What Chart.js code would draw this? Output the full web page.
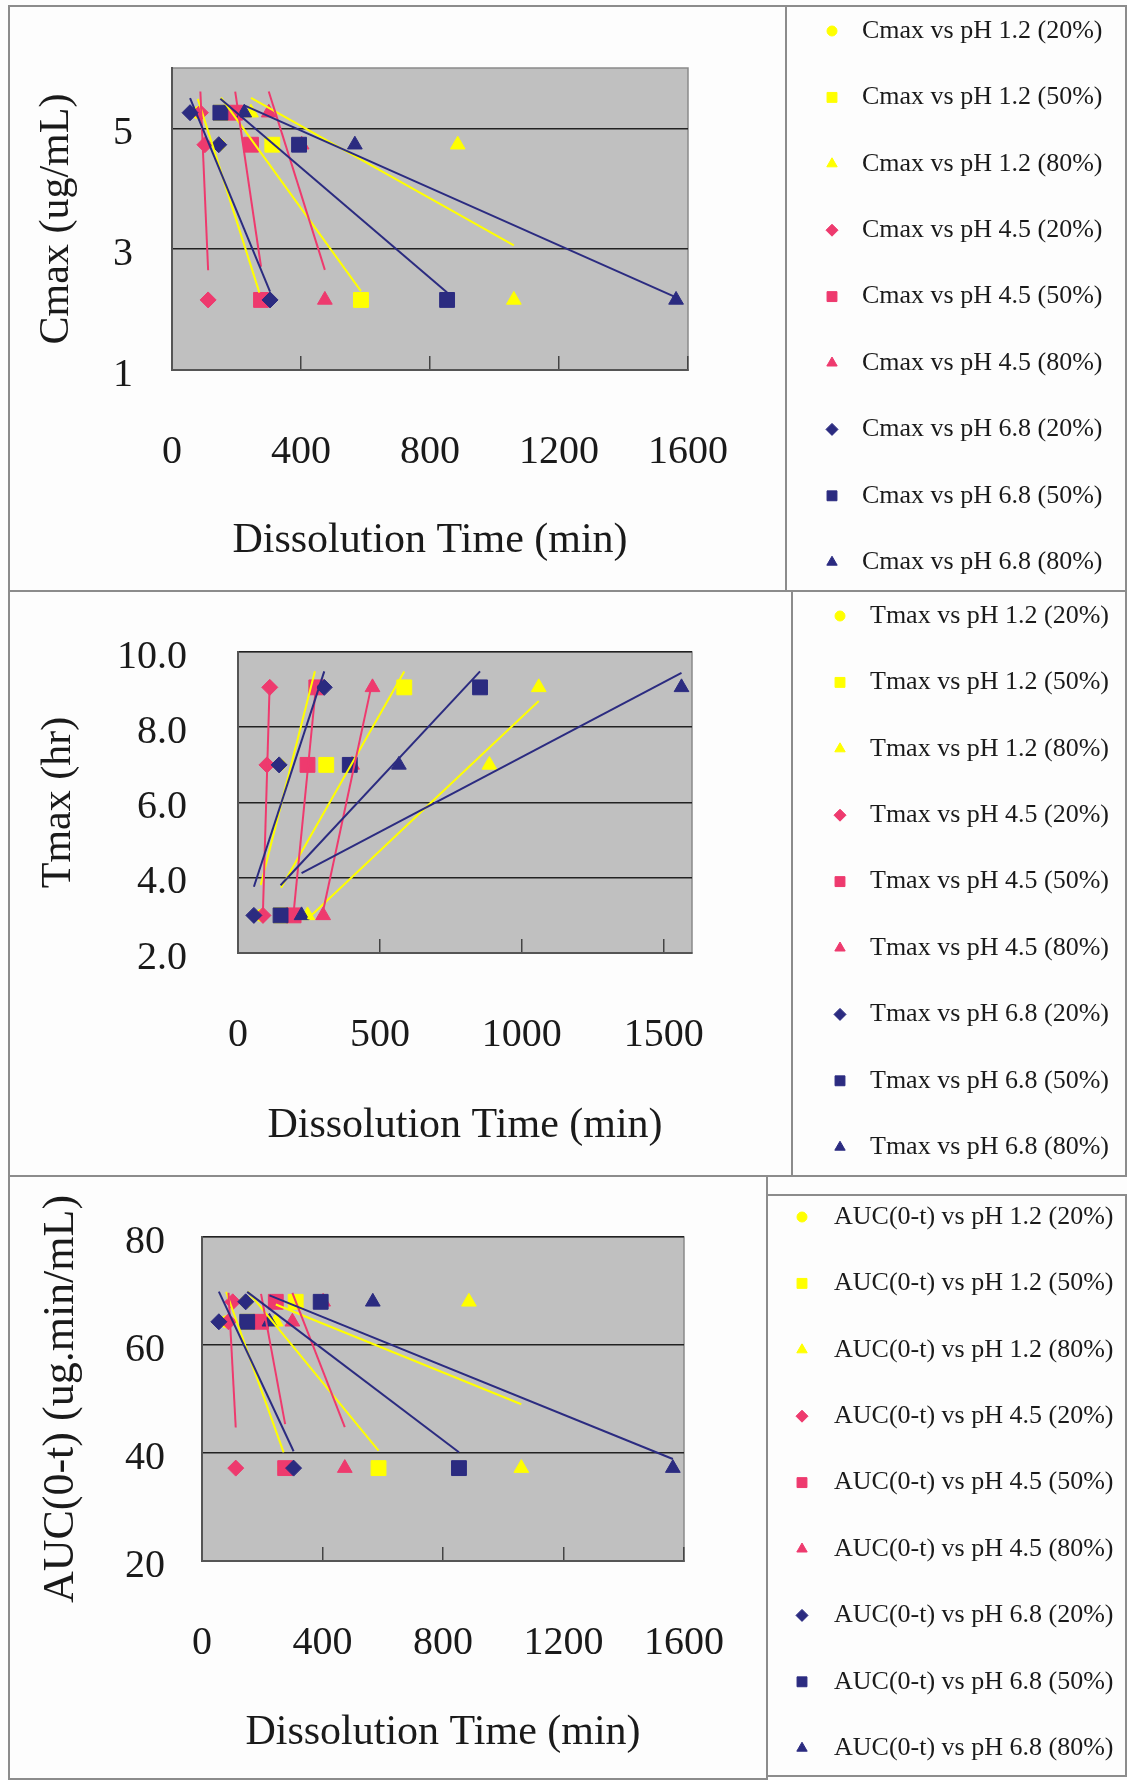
<!DOCTYPE html>
<html>
<head>
<meta charset="utf-8">
<title>Dissolution time vs Cmax, Tmax, AUC</title>
<script src="https://cdn.jsdelivr.net/npm/chart.js@4.4.1/dist/chart.umd.min.js"></script>
<style>
  html, body { margin: 0; padding: 0; background: #fdfdfd; }
  #page { position: relative; width: 1127px; height: 1780px; overflow: hidden; background: #fdfdfd; }
  .frame { position: absolute; box-sizing: border-box; border: 2px solid #8c8c8c; }
  canvas { position: absolute; left: 0; }
</style>
</head>
<body>
<div id="page">
  <div class="frame" style="left:8px; top:5px; width:779px; height:587px;"></div>
  <div class="frame" style="left:785px; top:5px; width:342px; height:587px;"></div>
  <div class="frame" style="left:8px; top:590px; width:785px; height:587px;"></div>
  <div class="frame" style="left:791px; top:590px; width:336px; height:587px;"></div>
  <div class="frame" style="left:8px; top:1175px; width:760px; height:605px;"></div>
  <div class="frame" style="left:766px; top:1194px; width:361px; height:583px;"></div>
  <canvas id="cmaxChart" width="1127" height="584" style="top:6px;"></canvas>
  <canvas id="tmaxChart" width="1127" height="585" style="top:590px;"></canvas>
  <canvas id="aucChart" width="1127" height="605" style="top:1175px;"></canvas>
</div>
<script>
const fontFamily = "'Liberation Serif', 'Times New Roman', serif";
Chart.defaults.font.family = fontFamily;
Chart.defaults.color = "#1a1a1a";

const seriesNames = [
  "pH 1.2 (20%)", "pH 1.2 (50%)", "pH 1.2 (80%)",
  "pH 4.5 (20%)", "pH 4.5 (50%)", "pH 4.5 (80%)",
  "pH 6.8 (20%)", "pH 6.8 (50%)", "pH 6.8 (80%)",
];

// time (min) to reach 20/50/80% dissolved, one value per formulation
const ph12at20 = [80, 146, 271];
const ph12at50 = [152, 311, 586];
const ph12at80 = [245, 886, 1060];
const ph45at20 = [88, 102, 112];
const ph45at50 = [196, 245, 276];
const ph45at80 = [300, 402, 474];
const ph68at20 = [56, 145, 304];
const ph68at50 = [150, 394, 853];
const ph68at80 = [224, 567, 1563];
const dissolutionTimes = [
  ph12at20, ph12at50, ph12at80,
  ph45at20, ph45at50, ph45at80,
  ph68at20, ph68at50, ph68at80,
];

// PK parameter of the same three formulations
const cmaxValues = [5.26, 4.73, 2.16];
const tmaxValues = [3.0, 7.0, 9.06];
const aucValues = [64.3, 68.0, 37.2];

const cmaxTicks = [1, 3, 5];
const tmaxTicks = [2, 4, 6, 8, 10];
const aucTicks = [20, 40, 60, 80];
const timeTicks400 = [0, 400, 800, 1200, 1600];
const timeTicks500 = [0, 500, 1000, 1500];

const yellow = "#FFFF00", pink = "#EE3A6E", navy = "#2B2B80";
const seriesColors = [yellow, yellow, yellow, pink, pink, pink, navy, navy, navy];
const seriesShapes = [
  "circle", "rect", "triangle",
  "rectRot", "rect", "triangle",
  "rectRot", "rect", "triangle",
];
const markerRadius = { circle: 6, rect: 10.5, triangle: 8.5, rectRot: 8 };
const legendRadius = { circle: 5, rect: 7, triangle: 6, rectRot: 6 };

// Excel style linear trendline, from smallest to largest x
const trendLine = (xs, ys) => {
  const n = xs.length;
  const mx = xs.reduce((a, b) => a + b, 0) / n;
  const my = ys.reduce((a, b) => a + b, 0) / n;
  let sxy = 0, sxx = 0;
  xs.forEach((x, i) => {
    sxy += (x - mx) * (ys[i] - my);
    sxx += (x - mx) * (x - mx);
  });
  const slope = sxy / sxx;
  const x0 = Math.min(...xs), x1 = Math.max(...xs);
  return [
    { x: x0, y: my + slope * (x0 - mx) },
    { x: x1, y: my + slope * (x1 - mx) },
  ];
};

const plotBackground = {
  id: "plotBackground",
  beforeDraw(chart) {
    const { ctx, chartArea: a } = chart;
    ctx.save();
    ctx.fillStyle = "#c0c0c0";
    ctx.fillRect(a.left, a.top, a.width, a.height);
    ctx.strokeStyle = "#8a8a8a";
    ctx.lineWidth = 1.5;
    ctx.strokeRect(a.left, a.top, a.width, a.height);
    ctx.restore();
  },
};

const drawMarker = (ctx, style, r, x, y) => {
  if (Chart.helpers && Chart.helpers.drawPoint) {
    Chart.helpers.drawPoint(ctx, { pointStyle: style, radius: r, rotation: 0, borderWidth: 1 }, x, y);
    return;
  }
  ctx.beginPath();
  if (style === "circle") ctx.arc(x, y, r, 0, Math.PI * 2);
  else if (style === "rect") ctx.rect(x - r * 0.707, y - r * 0.707, r * 1.414, r * 1.414);
  else if (style === "rectRot") {
    ctx.moveTo(x - r, y); ctx.lineTo(x, y - r); ctx.lineTo(x + r, y); ctx.lineTo(x, y + r);
  } else {
    ctx.moveTo(x, y - r); ctx.lineTo(x + r * 0.866, y + r / 2); ctx.lineTo(x - r * 0.866, y + r / 2);
  }
  ctx.closePath();
  ctx.fill();
};

const sideLegend = {
  id: "sideLegend",
  afterDraw(chart, args, opts) {
    const { ctx } = chart;
    ctx.save();
    ctx.font = `${opts.fontSize}px ${fontFamily}`;
    ctx.textBaseline = "middle";
    ctx.textAlign = "left";
    let y = opts.firstY;
    chart.data.datasets
      .filter((d) => !d.trend)
      .forEach((d) => {
        ctx.fillStyle = d.backgroundColor;
        ctx.strokeStyle = d.borderColor;
        ctx.lineWidth = 1;
        drawMarker(ctx, d.pointStyle, legendRadius[d.pointStyle], opts.markerX, y);
        ctx.fillStyle = "#1a1a1a";
        ctx.fillText(d.label, opts.textX, y);
        y += opts.step;
      });
    ctx.restore();
  },
};

const panels = [
  {
    id: "cmaxChart", height: 584, prefix: "Cmax", yTitle: "Cmax (ug/mL)", yTitleSize: 42,
    yValues: cmaxValues, yMin: 1, yMax: 6, yTicks: cmaxTicks, xTicks: timeTicks400, digits: 0,
    plot: { left: 172, right: 688, top: 62, bottom: 364 },
    yTitleX: 57, xTitleFromBottom: 49, yTickGap: 39,
    legend: { markerX: 832, textX: 862, firstY: 25, step: 66.4, fontSize: 26 },
  },
  {
    id: "tmaxChart", height: 585, prefix: "Tmax", yTitle: "Tmax (hr)", yTitleSize: 42,
    yValues: tmaxValues, yMin: 2, yMax: 10, yTicks: tmaxTicks, xTicks: timeTicks500, digits: 1,
    plot: { left: 238, right: 692, top: 62, bottom: 363 },
    yTitleX: 59, xTitleFromBottom: 49, yTickGap: 51,
    legend: { markerX: 840, textX: 870, firstY: 26, step: 66.4, fontSize: 26 },
  },
  {
    id: "aucChart", height: 605, prefix: "AUC(0-t)", yTitle: "AUC(0-t) (ug.min/mL)", yTitleSize: 44,
    yValues: aucValues, yMin: 20, yMax: 80, yTicks: aucTicks, xTicks: timeTicks400, digits: 0,
    plot: { left: 202, right: 684, top: 62, bottom: 386 },
    yTitleX: 61, xTitleFromBottom: 47, yTickGap: 37,
    legend: { markerX: 802, textX: 834, firstY: 42, step: 66.4, fontSize: 26 },
  },
];

const buildChart = (p) => {
  const datasets = [];
  dissolutionTimes.forEach((times, i) => {
    datasets.push({
      label: `${p.prefix} vs ${seriesNames[i]}`,
      data: times.map((t, k) => ({ x: t, y: p.yValues[k] })),
      pointStyle: seriesShapes[i],
      pointRadius: markerRadius[seriesShapes[i]],
      backgroundColor: seriesColors[i],
      borderColor: seriesColors[i],
      borderWidth: 1,
      order: 20 - i,
    });
  });
  dissolutionTimes.forEach((times, i) => {
    datasets.push({
      trend: true,
      data: trendLine(times, p.yValues),
      showLine: true,
      pointRadius: 0,
      borderColor: seriesColors[i],
      borderWidth: 2,
      order: -i,
    });
  });

  const tickFont = { size: 40 };
  return new Chart(document.getElementById(p.id), {
    type: "scatter",
    data: { datasets },
    options: {
      responsive: false,
      animation: false,
      events: [],
      layout: { padding: { top: p.plot.top, right: 1127 - p.plot.right, left: 0, bottom: 0 } },
      plugins: {
        legend: { display: false },
        tooltip: { enabled: false },
        sideLegend: p.legend,
      },
      scales: {
        x: {
          type: "linear",
          min: 0,
          max: 1600,
          afterBuildTicks: (s) => { s.ticks = p.xTicks.map((v) => ({ value: v })); },
          afterFit: (s) => {
            s.height = p.height - p.plot.bottom;
            s.paddingLeft = 0;
            s.paddingRight = 0;
          },
          grid: { display: true, drawOnChartArea: false, drawTicks: true, tickLength: -14, color: "#444", lineWidth: 1.5 },
          border: { display: true, color: "#555", width: 2 },
          ticks: { font: tickFont, padding: 72, autoSkip: false, maxRotation: 0, minRotation: 0, callback: (v) => String(v) },
          title: {
            display: true,
            text: "Dissolution Time (min)",
            font: { size: 42 },
            padding: { top: 0, bottom: p.xTitleFromBottom - 25 },
          },
        },
        y: {
          type: "linear",
          min: p.yMin,
          max: p.yMax,
          afterBuildTicks: (s) => { s.ticks = p.yTicks.map((v) => ({ value: v })); },
          afterFit: (s) => {
            s.width = p.plot.left;
            s.paddingTop = 0;
            s.paddingBottom = 0;
          },
          grid: { display: true, drawTicks: false, color: "#222", lineWidth: 1.6 },
          border: { display: true, color: "#555", width: 2 },
          ticks: { font: tickFont, padding: p.yTickGap, labelOffset: 5, autoSkip: false, callback: (v) => v.toFixed(p.digits) },
          title: {
            display: true,
            text: p.yTitle,
            font: { size: p.yTitleSize },
            padding: { top: p.yTitleX - p.yTitleSize * 0.6, bottom: 0 },
          },
        },
      },
    },
    plugins: [plotBackground, sideLegend],
  });
};

panels.forEach(buildChart);
</script>
</body>
</html>
